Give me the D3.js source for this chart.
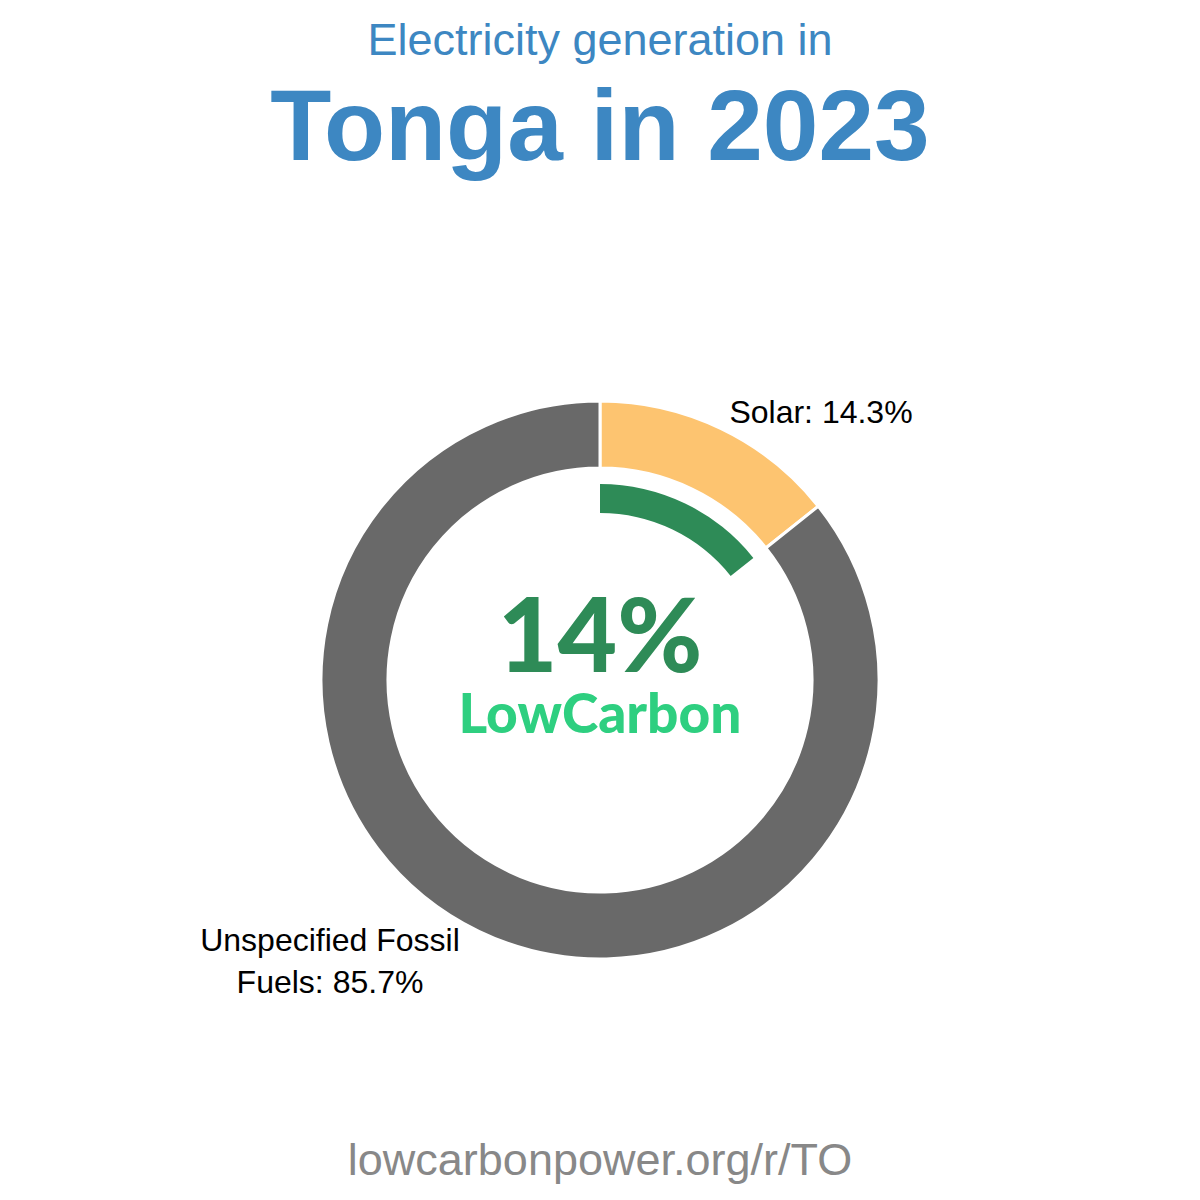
<!DOCTYPE html>
<html>
<head>
<meta charset="utf-8">
<script src="https://d3js.org/d3.v7.min.js"></script>
<style>
	body {
		margin: 0;
		background: #fff;
	}
	text {
		font-family: "Liberation Sans", Arial, sans-serif;
	}
</style>
</head>
<body>
<script>
	// data
	var sources = ["Solar", "Unspecified Fossil Fuels"];
	var shares = [14.3, 85.7];
	var colors = ["#fdc470", "#696969"];
	var lowCarbonShare = 14.3;

	var width = 1200, height = 1200;
	var cx = 600, cy = 680;

	var svg = d3.select("body").append("svg")
		.attr("width", width)
		.attr("height", height);

	svg.append("text")
		.attr("x", 600).attr("y", 55)
		.attr("text-anchor", "middle")
		.style("font-size", "45px")
		.style("fill", "#3d87c2")
		.text("Electricity generation in");

	svg.append("text")
		.attr("x", 600).attr("y", 160)
		.attr("text-anchor", "middle")
		.style("font-size", "100px")
		.style("font-weight", "bold")
		.style("fill", "#3d87c2")
		.text("Tonga in 2023");

	var g = svg.append("g").attr("transform", "translate(" + cx + "," + cy + ")");

	var pie = d3.pie().sort(null).value(function(d) { return d; });
	var arc = d3.arc().innerRadius(212).outerRadius(279);

	var slices = pie(shares);
	g.selectAll("path.slice").data(slices)
		.enter().append("path")
		.attr("class", "slice")
		.attr("d", arc)
		.style("fill", function(d, i) { return colors[i]; })
		.style("stroke", "#fff")
		.style("stroke-width", 3);

	// inner green arc showing low carbon share
	var scale = d3.scaleLinear().domain([0, 100]).range([0, 2 * Math.PI]);
	g.append("path")
		.attr("d", d3.arc().innerRadius(167).outerRadius(196)
			.startAngle(0).endAngle(scale(lowCarbonShare))())
		.style("fill", "#2e8b57");

	g.append("text")
		.attr("x", 0).attr("y", -8)
		.attr("text-anchor", "middle")
		.style("font-family", "Lato, sans-serif")
		.style("font-weight", "900")
		.style("font-size", "103px")
		.style("fill", "#2e8b57")
		.text(Math.round(lowCarbonShare) + "%");

	g.append("text")
		.attr("x", 0).attr("y", 53)
		.attr("text-anchor", "middle")
		.style("font-family", "Lato, sans-serif")
		.style("font-weight", "900")
		.style("font-size", "55px")
		.style("fill", "#2ecf80")
		.text("LowCarbon");

	// slice labels
	var labelPos = [[821, 423], [330, 951]];
	var labelLines = [
		[sources[0] + ": " + shares[0] + "%"],
		["Unspecified Fossil", "Fuels: " + shares[1] + "%"]
	];
	labelLines.forEach(function(lines, i) {
		var t = svg.append("text")
			.attr("x", labelPos[i][0]).attr("y", labelPos[i][1])
			.attr("text-anchor", "middle")
			.style("font-size", "32px")
			.style("fill", "#000");
		lines.forEach(function(l, j) {
			t.append("tspan")
				.attr("x", labelPos[i][0])
				.attr("dy", j === 0 ? 0 : 42)
				.text(l);
		});
	});

	svg.append("text")
		.attr("x", 600).attr("y", 1175)
		.attr("text-anchor", "middle")
		.style("font-size", "45px")
		.style("fill", "#888")
		.text("lowcarbonpower.org/r/TO");
</script>
</body>
</html>
